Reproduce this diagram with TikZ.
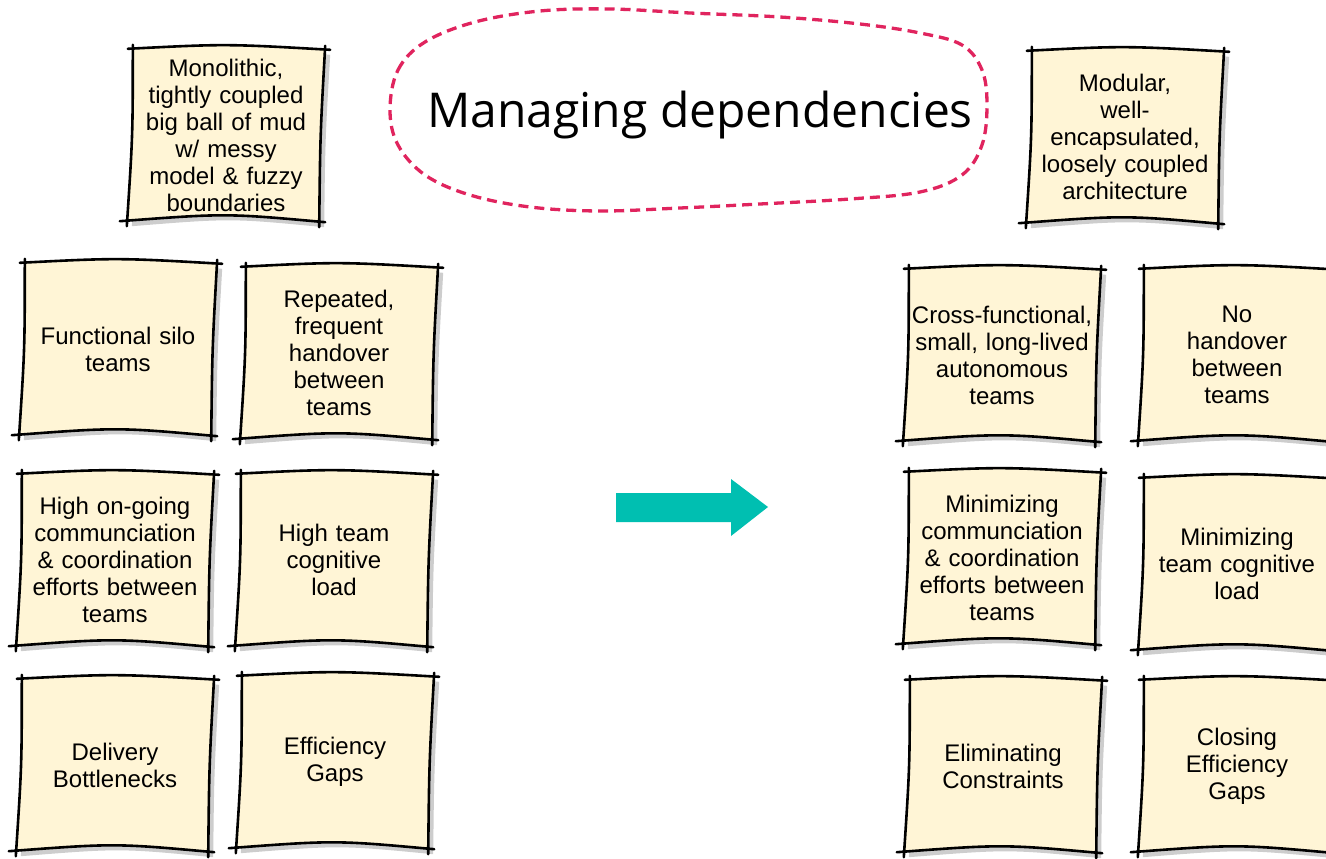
\documentclass[tikz,border=0pt]{standalone}
\usepackage{xcolor}
\usepackage{fontspec}
\setmainfont{Liberation Sans}
\newfontfamily\titlefont{Open Sans}
\usetikzlibrary{positioning,calc,backgrounds}
\definecolor{notefill}{HTML}{FFF5D6}
\definecolor{noteshadow}{HTML}{CDCDCD}
\definecolor{cloudred}{HTML}{E0245E}
\definecolor{arrowteal}{HTML}{00BFB1}

\begin{document}
\begin{tikzpicture}[x=1pt, y=-1pt,
    note/.style={minimum width=192, minimum height=172, text width=188, inner sep=0,
        align=center, font=\fontsize{24}{27}\selectfont},
    notepen/.style={line width=2.6pt, line cap=round, black}]
    \useasboundingbox (0,0) rectangle (1326,859);
    \clip (0,0) rectangle (1326,859);

    % Title cloud
    \draw[cloudred, line width=3.3pt, dash pattern=on 10pt off 6pt]
        plot[smooth cycle, tension=0.6] coordinates {(390,110) (398,70) (425,42) (475,22)
        (540,11) (610,9) (690,13) (780,17) (860,24) (920,33) (962,45) (982,70) (987,105)
        (982,145) (962,175) (920,192) (850,199) (760,204) (680,208) (600,211) (530,207)
        (470,195) (425,175) (398,145)};
    \node[anchor=base] (title) at (700,127) {\titlefont\fontsize{48}{56}\selectfont Managing dependencies};

    % Architecture
    \node[note] (mono) at (226,135) {Monolithic,\\ tightly coupled\\ big ball of mud\\ w/ messy\\ model \& fuzzy\\ boundaries};
    \node[note] (modular) at (1125,137) {Modular,\\ well-\\ encapsulated,\\ loosely coupled\\ architecture};

    % Before
    \node[note] (silo) at (118,349) {Functional silo\\ teams};
    \node[note] (handover) at (339,353) {Repeated,\\ frequent\\ handover\\ between\\ teams};
    \node[note] (comms) at (115,560) {High on-going\\ communciation\\ \& coordination\\ efforts between\\ teams};
    \node[note] (load) at (334,560) {High team\\ cognitive\\ load};
    \node[note] (bottleneck) at (115,765) {Delivery\\ Bottlenecks};
    \node[note] (gaps) at (335,762) {Efficiency\\ Gaps};

    % After
    \node[note] (crossfn) at (1002,355) {Cross-functional,\\ small, long-lived\\ autonomous\\ teams};
    \node[note] (nohandover) at (1237,355) {No\\ handover\\ between\\ teams};
    \node[note] (mincomms) at (1002,558) {Minimizing\\ communciation\\ \& coordination\\ efforts between\\ teams};
    \node[note] (minload) at (1237,564) {Minimizing\\ team cognitive\\ load};
    \node[note] (constraints) at (1003,766) {Eliminating\\ Constraints};
    \node[note] (closegaps) at (1237,766) {Closing\\ Efficiency\\ Gaps};

    % Sketchy paper behind each note
    \foreach \n in {mono,modular,silo,handover,comms,load,bottleneck,gaps,
                    crossfn,nohandover,mincomms,minload,constraints,closegaps} {
        \coordinate (tl) at ($(\n.north west)+(3,0)$);
        \coordinate (tr) at ($(\n.north east)+(3,1)$);
        \coordinate (br) at ($(\n.south east)+(-3,1)$);
        \coordinate (bl) at ($(\n.south west)+(-3,0)$);
        \coordinate (tc) at ($(\n.north)+(0,-5)$);
        \coordinate (rc) at ($(\n.east)+(-2,0)$);
        \coordinate (bc) at ($(\n.south)+(0,-8)$);
        \coordinate (lc) at ($(\n.west)+(3,0)$);
        \begin{scope}[on background layer]
            \begin{scope}[transform canvas={shift={(5,5)}}]
                \fill[noteshadow] (tl) .. controls (tc) .. (tr) .. controls (rc) .. (br)
                    .. controls (bc) .. (bl) .. controls (lc) .. (tl) -- cycle;
            \end{scope}
            \fill[notefill] (tl) .. controls (tc) .. (tr) .. controls (rc) .. (br)
                .. controls (bc) .. (bl) .. controls (lc) .. (tl) -- cycle;
        \end{scope}
        \draw[notepen] ($(tl)+(-5,0)$) .. controls (tc) .. ($(tr)+(5,0)$);
        \draw[notepen] ($(tr)+(0,-4)$) .. controls (rc) .. ($(br)+(0,5)$);
        \draw[notepen] ($(br)+(6,0)$) .. controls (bc) .. ($(bl)+(-7,0)$);
        \draw[notepen] ($(bl)+(0,5)$) .. controls (lc) .. ($(tl)+(0,-4)$);
    }

    % Arrow
    \fill[arrowteal] (616,493) -- (731,493) -- (731,479) -- (768,507) -- (731,536)
        -- (731,522) -- (616,522) -- cycle;
\end{tikzpicture}
\end{document}
